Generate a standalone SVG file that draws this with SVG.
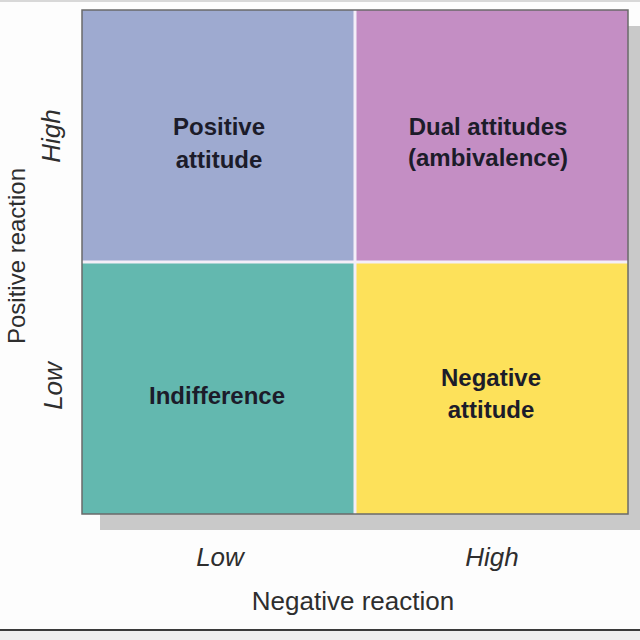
<svg xmlns="http://www.w3.org/2000/svg" width="640" height="640" viewBox="0 0 640 640">
<style>
.q{font-family:"Liberation Sans",Arial,sans-serif;font-weight:bold;font-size:24px;fill:#1c1c2a;text-anchor:middle}
.ax{font-family:"Liberation Sans",Arial,sans-serif;font-style:italic;font-size:26px;fill:#2e2e2e;text-anchor:middle}
.tt{font-family:"Liberation Sans",Arial,sans-serif;font-size:26px;fill:#2e2e2e;text-anchor:middle}
</style>
<rect x="0" y="0" width="640" height="640" fill="#fdfdfd"/>
<line x1="0" y1="1" x2="640" y2="1" stroke="#d8d8d8" stroke-width="2"/>
<rect x="0" y="631" width="640" height="9" fill="#eeeeee"/>
<line x1="0" y1="630" x2="640" y2="630" stroke="#3a3a3a" stroke-width="2"/>
<rect id="shadow" x="100" y="26" width="546" height="504" fill="#c9c9c9"/>
<g id="q-positive">
<rect x="82" y="10" width="273" height="252" fill="#9eaad0"/>
<text class="q" x="219" y="135">Positive</text>
<text class="q" x="219" y="168">attitude</text>
</g>
<g id="q-dual">
<rect x="355" y="10" width="273" height="252" fill="#c48ec4"/>
<text class="q" x="488" y="135">Dual attitudes</text>
<text class="q" x="488" y="166">(ambivalence)</text>
</g>
<g id="q-indifference">
<rect x="82" y="262" width="273" height="252" fill="#63b8af"/>
<text class="q" x="217" y="404">Indifference</text>
</g>
<g id="q-negative">
<rect x="355" y="262" width="273" height="252" fill="#fde15a"/>
<text class="q" x="491" y="386">Negative</text>
<text class="q" x="491" y="418">attitude</text>
</g>
<g id="dividers">
<line x1="355" y1="10" x2="355" y2="514" stroke="#f4eef8" stroke-width="3"/>
<line x1="82" y1="262" x2="628" y2="262" stroke="#f4eef8" stroke-width="3"/>
</g>
<rect x="82" y="10" width="546" height="504" fill="none" stroke="#6a6a6a" stroke-width="1.5"/>
<g id="axis-x">
<text class="ax" x="220" y="566">Low</text>
<text class="ax" x="492" y="566">High</text>
<text class="tt" x="353" y="610">Negative reaction</text>
</g>
<g id="axis-y">
<text class="ax" transform="translate(60,136) rotate(-90)">High</text>
<text class="ax" transform="translate(62,386) rotate(-90)">Low</text>
<text class="tt" style="font-size:24px" transform="translate(25,256) rotate(-90)">Positive reaction</text>
</g>
</svg>
